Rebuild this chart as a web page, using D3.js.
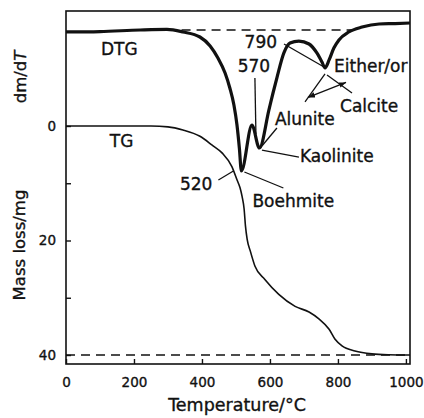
<!DOCTYPE html>
<html>
<head>
<meta charset="utf-8">
<script src="https://cdn.jsdelivr.net/npm/d3@7"></script>
<style>
  html, body { margin: 0; padding: 0; background: #fff; }
  svg { display: block; font-family: "DejaVu Sans", sans-serif; }
  text { fill: #111; stroke: #111; stroke-width: 0.35px; }
</style>
</head>
<body>
<svg id="chart" width="424" height="418"></svg>
<script>
// Temperature axis
const temperatureTicks = [0, 200, 400, 600, 800, 1000];
// Mass-loss axis (mg)
const massTicks = [0, 10, 20, 30, 40];
const massTickLabels = ["0", "", "20", "", "40"];

// TG curve: cumulative mass loss (mg) against temperature (°C)
const tgTemp = [0, 150, 250, 300, 344, 394, 429, 459, 488, 503, 512, 518, 524, 528, 533, 542, 556, 585, 626, 674, 715, 744, 774, 791, 812, 850, 900, 950, 1012];
const tgMass = [0, 0, 0, 0.15, 0.7, 1.8, 3.3, 4.7, 7.1, 9.4, 10.8, 12.3, 14.5, 17.5, 19.8, 21.8, 24.5, 26.8, 29.4, 31.5, 32.5, 33.7, 35.5, 37.2, 38.4, 39.3, 39.8, 39.95, 40];

// DTG curve: rate of mass change (arbitrary units, 0 = baseline)
const dtgTemp = [0, 100, 218, 297, 344, 394, 424, 447, 468, 482, 494, 503, 510, 516, 547, 569, 597, 609, 621, 641, 659, 685, 715, 738, 753, 762, 774, 788, 803, 832, 871, 921, 968, 1012];
const dtgRate = [-0.14, -0.11, 0, 0.04, -0.14, -0.5, -1.14, -2.0, -3.07, -4.14, -5.36, -6.79, -8.43, -10.07, -6.79, -8.43, -5.71, -4.5, -3.36, -1.64, -0.93, -0.79, -1.0, -1.64, -2.29, -2.71, -2.14, -1.29, -0.71, -0.14, 0.21, 0.43, 0.46, 0.5];

// Peak temperatures written beside the three DTG minima
const peakLabels = ["520", "570", "790"];

const svg = d3.select("#chart");
const plotLeft = 66, plotRight = 410, plotTop = 11, plotBottom = 364;

const x = d3.scaleLinear().domain([0, 1012]).range([plotLeft, plotRight]);
const yMass = d3.scaleLinear().domain([0, 40]).range([126, 355]);
const yRate = d3.scaleLinear().domain([0, -10]).range([30, 170]);

const tgData = tgTemp.map((t, i) => ({ t, v: tgMass[i] }));
const dtgData = dtgTemp.map((t, i) => ({ t, v: dtgRate[i] }));

// Reference dashed lines: DTG baseline and final mass loss level
svg.append("line")
  .attr("x1", x(340)).attr("x2", x(850))
  .attr("y1", yRate(0)).attr("y2", yRate(0))
  .attr("stroke", "#111").attr("stroke-width", 1.4)
  .attr("stroke-dasharray", "9,6");
svg.append("line")
  .attr("x1", x(0)).attr("x2", x(1012))
  .attr("y1", yMass(40)).attr("y2", yMass(40))
  .attr("stroke", "#111").attr("stroke-width", 1.4)
  .attr("stroke-dasharray", "9,6");

// Frame
svg.append("rect")
  .attr("x", plotLeft).attr("y", plotTop)
  .attr("width", plotRight - plotLeft).attr("height", plotBottom - plotTop)
  .attr("fill", "none").attr("stroke", "#111").attr("stroke-width", 1.6);

// Axes (inward ticks)
const xAxis = svg.append("g")
  .attr("transform", `translate(0,${plotBottom})`)
  .call(d3.axisBottom(x).tickValues(temperatureTicks).tickFormat(d3.format("d"))
    .tickSizeInner(-5).tickSizeOuter(0).tickPadding(13));
xAxis.select(".domain").remove();
xAxis.selectAll("line").attr("stroke", "#111").attr("stroke-width", 1.4);
xAxis.selectAll("text").attr("font-size", 13.5).attr("font-family", "DejaVu Sans").attr("fill", "#111");

const yAxis = svg.append("g")
  .attr("transform", `translate(${plotLeft},0)`)
  .call(d3.axisLeft(yMass).tickValues(massTicks).tickSizeInner(-5).tickSizeOuter(0).tickPadding(10)
    .tickFormat((d, i) => massTickLabels[i]));
yAxis.select(".domain").remove();
yAxis.selectAll("line").attr("stroke", "#111").attr("stroke-width", 1.4);
yAxis.selectAll("text").attr("font-size", 13.5).attr("font-family", "DejaVu Sans").attr("fill", "#111");

// Axis titles
svg.append("text")
  .attr("x", (plotLeft + plotRight) / 2 - 1).attr("y", 411)
  .attr("text-anchor", "middle").attr("font-size", 17.5)
  .text("Temperature/°C");
svg.append("text")
  .attr("transform", "translate(25,245) rotate(-90)")
  .attr("text-anchor", "middle").attr("font-size", 16.5)
  .text("Mass loss/mg");
const dmdt = svg.append("text")
  .attr("transform", "translate(26,77) rotate(-90)")
  .attr("text-anchor", "middle").attr("font-size", 16.5);
dmdt.append("tspan").text("dm/d");
dmdt.append("tspan").attr("font-style", "italic").text("T");

// Curves
const tgLine = d3.line().x(d => x(d.t)).y(d => yMass(d.v)).curve(d3.curveMonotoneX);
const dtgLine = d3.line().x(d => x(d.t)).y(d => yRate(d.v)).curve(d3.curveMonotoneX);

svg.append("path").datum(tgData)
  .attr("d", tgLine).attr("fill", "none")
  .attr("stroke", "#111").attr("stroke-width", 1.6);
svg.append("path").datum(dtgData)
  .attr("d", dtgLine).attr("fill", "none")
  .attr("stroke", "#111").attr("stroke-width", 3.2).attr("stroke-linejoin", "round");

// Curve names
svg.append("text").attr("x", x(103)).attr("y", 55).attr("font-size", 17).text("DTG");
svg.append("text").attr("x", x(129)).attr("y", 147).attr("font-size", 17).text("TG");

// Locate the DTG minima for the peak annotations
const minima = dtgData.filter((d, i) => i > 0 && i < dtgData.length - 1 &&
  d.v < dtgData[i - 1].v && d.v < dtgData[i + 1].v && d.v < -2)
  .map(d => [x(d.t), yRate(d.v)]);

// Arrowhead marker
const defs = svg.append("defs");
defs.append("marker")
  .attr("id", "arrow").attr("viewBox", "0 0 10 8")
  .attr("refX", 10).attr("refY", 4)
  .attr("markerWidth", 7).attr("markerHeight", 5.6)
  .attr("markerUnits", "userSpaceOnUse")
  .attr("orient", "auto-start-reverse")
  .append("path").attr("d", "M0,0 L10,4 L0,8 Z").attr("fill", "#111");

const ann = svg.append("g").attr("font-size", 17);
function leader(p, a, b, arrows) {
  const l = ann.append("line")
    .attr("x1", p[0] + a[0]).attr("y1", p[1] + a[1])
    .attr("x2", p[0] + b[0]).attr("y2", p[1] + b[1])
    .attr("stroke", "#111").attr("stroke-width", 1.3);
  if (arrows) l.attr("marker-start", "url(#arrow)").attr("marker-end", "url(#arrow)");
}
function label(p, d, txt, anchor) {
  ann.append("text").attr("x", p[0] + d[0]).attr("y", p[1] + d[1])
    .attr("text-anchor", anchor || "start").text(txt);
}

const [m1, m2, m3] = minima;

// 520 — Boehmite
label(m1, [-29, 19], peakLabels[0], "end");
leader(m1, [-23, 9], [-8, 0]);
leader(m1, [3, 1], [42, 17]);
label(m1, [11, 36], "Boehmite");

// 570 — Kaolinite / Alunite
label(m2, [-5.5, -76], peakLabels[1], "middle");
leader(m2, [-4.5, -70], [-3.5, -14]);
leader(m2, [2.5, 2], [39.5, 9]);
label(m2, [40.5, 14], "Kaolinite");
leader(m2, [17.5, -20], [2.5, -2]);
label(m2, [15.5, -23], "Alunite");

// 790 — Either/or Alunite or Calcite
label(m3, [-48, -20], peakLabels[2], "end");
leader(m3, [-41, -24], [-1, -1]);
label(m3, [9, 4], "Either/or");
leader(m3, [0, 6], [-20, 34]);
leader(m3, [2, 7], [27, 25]);
leader(m3, [-17, 29.5], [21, 14.5], true);
label(m3, [15, 44], "Calcite");
</script>
</body>
</html>
